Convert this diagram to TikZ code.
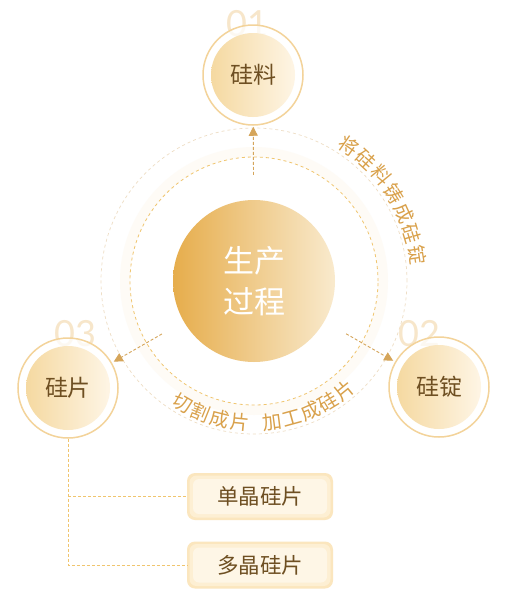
\documentclass[tikz,border=0pt]{standalone}
\usepackage{fontspec}
\setmainfont{Noto Sans CJK SC}
\newfontfamily\numfont{Lato}
\usetikzlibrary{arrows.meta,calc}
\definecolor{gold}{HTML}{E6AD4C}
\definecolor{goldlight}{HTML}{F9EACD}
\definecolor{satL}{HTML}{F5D9A1}
\definecolor{satR}{HTML}{FEF5E5}
\definecolor{ringc}{HTML}{F3D39A}
\definecolor{brownt}{HTML}{6E4F22}
\definecolor{arctext}{HTML}{D9A14B}
\definecolor{numc}{HTML}{F7E6CA}
\definecolor{dashc}{HTML}{F0C56E}
\definecolor{dashlight}{HTML}{EEDDC4}
\definecolor{arrowc}{HTML}{D5A55A}
\definecolor{boxedge}{HTML}{FBE6BE}
\definecolor{boxmid}{HTML}{FDEFD3}
\definecolor{boxin}{HTML}{FEF6E6}
\definecolor{glowc}{HTML}{FBEBD0}
\tikzset{
 satring/.style={circle, draw=ringc, line width=1.5pt, fill=white, fill opacity=0.75, minimum size=100pt, inner sep=0pt},
 satfill/.style={circle, left color=satL, right color=satR, minimum size=84pt, inner sep=0pt, font=\fontsize{23}{23}\selectfont, text=brownt},
 numlabel/.style={font=\numfont\fontsize{36}{36}\selectfont, text=numc, inner sep=0pt},
 flowarrow/.style={draw=arrowc, line width=0.9pt, dash pattern=on 3pt off 2pt, -{Triangle[length=9pt,width=9pt]}},
 arcchar/.style={font=\fontsize{19.5}{19.5}\selectfont, text=arctext, inner sep=0pt},
 treeline/.style={draw=dashc, line width=0.8pt, dash pattern=on 3pt off 2pt},
 leafbox/.style={rounded corners=8pt, minimum width=146pt, minimum height=47pt, fill=boxedge,
   font=\fontsize{21.5}{21.5}\selectfont, text=brownt,
   path picture={
     \fill[boxmid, rounded corners=7pt] ([shift={(2.5pt,2.5pt)}]path picture bounding box.south west) rectangle ([shift={(-2.5pt,-2.5pt)}]path picture bounding box.north east);
     \fill[boxin, rounded corners=6pt] ([shift={(6pt,6pt)}]path picture bounding box.south west) rectangle ([shift={(-6pt,-6pt)}]path picture bounding box.north east);
   }},
 centerc/.style={circle, minimum size=162pt, inner sep=0pt, left color=gold, right color=goldlight, text=white, font=\fontsize{31}{41}\selectfont, align=center}
}
\begin{document}
\begin{tikzpicture}[x=1pt,y=1pt]
\useasboundingbox (0,0) rectangle (514,-600);
\fill[white] (0,0) rectangle (514,-600);
\coordinate (c) at (254,-281);
% glow and rings
\draw[glowc, opacity=0.18, line width=10pt] (c) circle[radius=129];
\draw[dashlight, line width=0.7pt, dash pattern=on 3pt off 3pt] (c) circle[radius=153];
\draw[dashc, line width=0.8pt, dash pattern=on 3pt off 3pt] (c) circle[radius=124];
% center
\node[centerc] (center) at (c) {生产\\过程};
% numerals
\node[numlabel] (n1) at (247,-24) {01};
\node[numlabel] (n2) at (419,-334) {02};
\node[numlabel] (n3) at (75,-334) {03};
% satellites
\node[satring] (sat1) at (253,-75) {};
\node[satfill] (s1) at (sat1) {硅料};
\node[satring] (sat2) at (439,-387) {};
\node[satfill] (s2) at (sat2) {硅锭};
\node[satring] (sat3) at (68,-388) {};
\node[satfill] (s3) at (sat3) {硅片};
% arrows
\draw[flowarrow, shorten <=25pt, shorten >=1pt] (center) -- (sat1);
\draw[flowarrow, shorten <=25pt, shorten >=2pt] (center) -- (sat2);
\draw[flowarrow, shorten <=25pt, shorten >=2pt] (center) -- (sat3);
% arc texts
\foreach \ch [count=\i from 0] in {将,硅,料,铸,成,硅,锭} {
  \node[arcchar, rotate={55-\i*7.667-90}] (ra\i) at ($(c)+({55-\i*7.667}:165)$) {\ch};
}
\foreach \ch [count=\i from 0] in {切,割,成,片} {
  \node[arcchar, rotate={239.8+\i*8.2+90}] (ba\i) at ($(c)+({239.8+\i*8.2}:142)$) {\ch};
}
\foreach \ch [count=\i from 0] in {加,工,成,硅,片} {
  \node[arcchar, rotate={277.4+\i*7.98+90}] (bb\i) at ($(c)+({277.4+\i*7.98}:142)$) {\ch};
}
% leaves
\node[leafbox] (box1) at (260,-496.5) {单晶硅片};
\node[leafbox] (box2) at (260,-565) {多晶硅片};
\draw[treeline] (sat3.south) |- (box2.west);
\draw[treeline] (sat3.south |- box1.west) -- (box1.west);
\end{tikzpicture}
\end{document}
